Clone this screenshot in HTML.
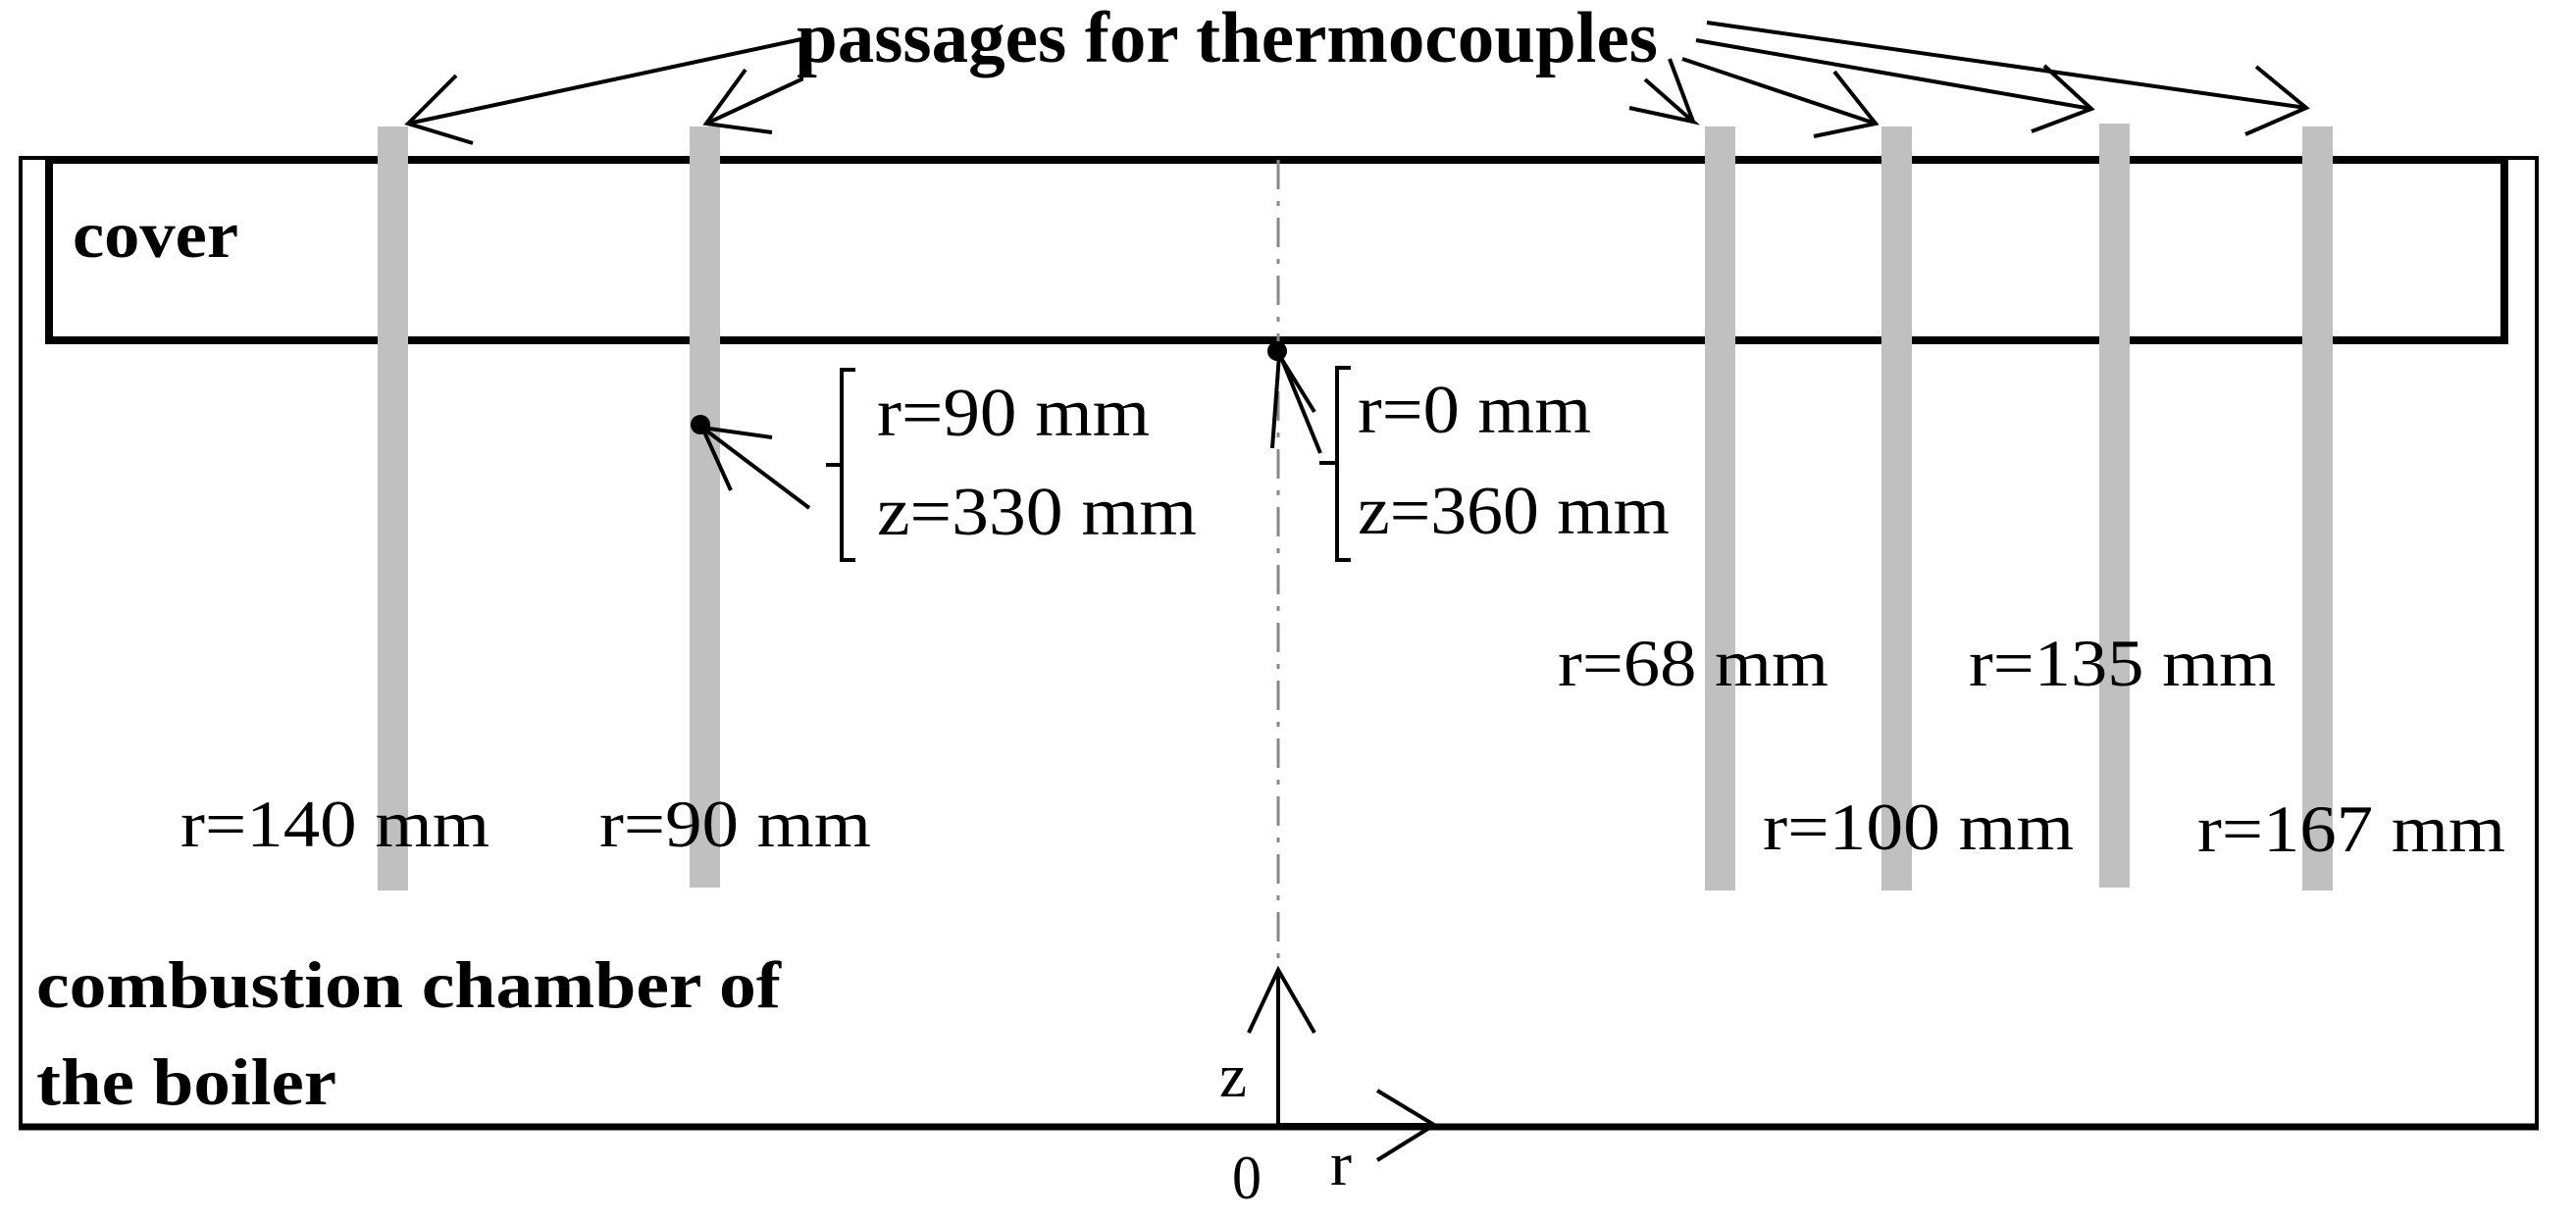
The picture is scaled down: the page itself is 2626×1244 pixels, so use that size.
<!DOCTYPE html>
<html><head><style>html,body{margin:0;padding:0;background:#fff;}svg{display:block}</style></head>
<body>
<svg width="2626" height="1244" viewBox="0 0 2626 1244" xmlns="http://www.w3.org/2000/svg" font-family="Liberation Serif, serif">
<rect x="0" y="0" width="2626" height="1244" fill="#fff"/>
<rect x="21" y="161" width="2565" height="988" fill="none" stroke="#000" stroke-width="4"/>
<line x1="19" y1="1149" x2="2588" y2="1149" stroke="#000" stroke-width="7"/>
<rect x="50" y="163" width="2503" height="184" fill="none" stroke="#000" stroke-width="8"/>
<g fill="#c0c0c0">
<rect x="385" y="129" width="31" height="779"/>
<rect x="703" y="129" width="31" height="776"/>
<rect x="1738" y="129" width="31" height="779"/>
<rect x="1918" y="129" width="31" height="779"/>
<rect x="2140" y="126" width="31" height="779"/>
<rect x="2347" y="129" width="31" height="779"/>
</g>
<line x1="1303" y1="163" x2="1303" y2="989" stroke="#888" stroke-width="3" stroke-dasharray="30,12,5,12"/>
<g stroke="#000" stroke-width="4" fill="none">
<line x1="1303" y1="989" x2="1303" y2="1149"/>
<polyline points="1273,1053 1303,989 1340,1053"/>
<line x1="1303" y1="1147" x2="1462" y2="1147"/>
<polyline points="1404,1112 1462,1147 1404,1183"/>
</g>
<text x="1243" y="1118" font-size="64" textLength="28" lengthAdjust="spacingAndGlyphs">z</text>
<text x="1256" y="1222" font-size="64" textLength="30" lengthAdjust="spacingAndGlyphs">0</text>
<text x="1356" y="1208" font-size="64" textLength="22" lengthAdjust="spacingAndGlyphs">r</text>
<text x="812" y="63" font-size="74" font-weight="bold" textLength="878" lengthAdjust="spacingAndGlyphs">passages for thermocouples</text>
<g stroke="#000" stroke-width="4" fill="none">
<line x1="817" y1="40" x2="416" y2="126"/><polyline points="465,77 416,126 482,146"/>
<polyline points="817,40 817,81 720,126"/><polyline points="760,71 720,126 787,135"/>
<line x1="1702" y1="60" x2="1726" y2="124"/><polyline points="1677,81 1726,124 1661,110"/>
<line x1="1715" y1="60" x2="1912" y2="126"/><polyline points="1870,73 1912,126 1849,139"/>
<line x1="1729" y1="41" x2="2132" y2="111"/><polyline points="2084,67 2132,111 2071,134"/>
<line x1="1740" y1="23" x2="2351" y2="110"/><polyline points="2300,68 2351,110 2289,137"/>
</g>
<circle cx="714" cy="433" r="10" fill="#000"/>
<g stroke="#000" stroke-width="4" fill="none">
<line x1="825" y1="518" x2="716" y2="436"/>
<polyline points="787,446 716,436 745,500"/>
<polyline points="872,377 858,377 858,571 872,571"/>
<line x1="842" y1="474" x2="858" y2="474"/>
</g>
<text x="894" y="444" font-size="70" textLength="278" lengthAdjust="spacingAndGlyphs">r=90 mm</text>
<text x="894" y="545" font-size="70" textLength="326" lengthAdjust="spacingAndGlyphs">z=330 mm</text>
<circle cx="1302" cy="358" r="10" fill="#000"/>
<g stroke="#000" stroke-width="4" fill="none">
<line x1="1346" y1="462" x2="1305" y2="362"/>
<polyline points="1297,457 1304,362 1340,420"/>
<polyline points="1377,375 1363,375 1363,571 1377,571"/>
<line x1="1345" y1="472" x2="1363" y2="472"/>
</g>
<text x="1384" y="441" font-size="70" textLength="238" lengthAdjust="spacingAndGlyphs">r=0 mm</text>
<text x="1384" y="544" font-size="70" textLength="318" lengthAdjust="spacingAndGlyphs">z=360 mm</text>
<g font-size="68">
<text x="1588" y="699" textLength="276" lengthAdjust="spacingAndGlyphs">r=68 mm</text>
<text x="2007" y="699" textLength="313" lengthAdjust="spacingAndGlyphs">r=135 mm</text>
<text x="184" y="863" textLength="315" lengthAdjust="spacingAndGlyphs">r=140 mm</text>
<text x="611" y="863" textLength="277" lengthAdjust="spacingAndGlyphs">r=90 mm</text>
<text x="1797" y="866" textLength="317" lengthAdjust="spacingAndGlyphs">r=100 mm</text>
<text x="2240" y="868" textLength="314" lengthAdjust="spacingAndGlyphs">r=167 mm</text>
</g>
<g font-size="68" font-weight="bold">
<text x="74" y="262" textLength="169" lengthAdjust="spacingAndGlyphs">cover</text>
<text x="37" y="1027" textLength="759" lengthAdjust="spacingAndGlyphs">combustion chamber of</text>
<text x="37" y="1126" textLength="306" lengthAdjust="spacingAndGlyphs">the boiler</text>
</g>
</svg>
</body></html>
